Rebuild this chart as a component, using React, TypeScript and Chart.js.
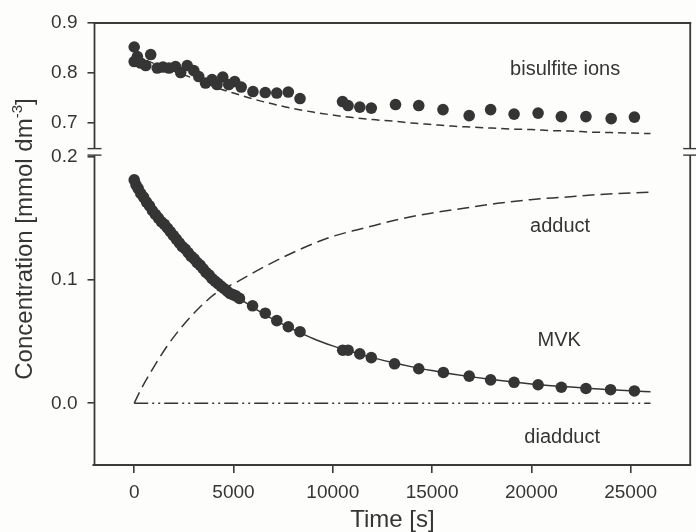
import React, { useEffect, useRef } from 'react';
import { Chart, registerables } from 'chart.js';

Chart.register(...registerables);

const FONT = "'Liberation Sans', Arial, Helvetica, sans-serif";
const INK = '#353535';

// Axis ticks
const X_TICKS = [0, 5000, 10000, 15000, 20000, 25000];
const Y_UPPER_TICKS = [0.7, 0.8, 0.9];
const Y_LOWER_TICKS = [0.0, 0.1, 0.2];

// Bisulfite ions (measured)
const bisulfiteT = [0, 0, 160, 330, 580, 830, 1160, 1450, 1750, 2080, 2340, 2670, 3000, 3250, 3590, 3920, 4170, 4460, 4760, 5060, 5390, 5980, 6600, 7180, 7760, 8350, 10490, 10770, 11360, 11940, 13160, 14330, 15550, 16870, 17950, 19130, 20340, 21510, 22750, 24020, 25190];
const bisulfiteC = [0.852, 0.823, 0.833, 0.820, 0.815, 0.837, 0.810, 0.812, 0.810, 0.813, 0.801, 0.815, 0.805, 0.793, 0.780, 0.787, 0.777, 0.792, 0.777, 0.783, 0.772, 0.763, 0.761, 0.760, 0.762, 0.749, 0.743, 0.735, 0.732, 0.730, 0.737, 0.735, 0.727, 0.715, 0.727, 0.718, 0.720, 0.713, 0.713, 0.709, 0.712];

// Bisulfite ions (model)
const bisulfiteFitT = [0, 1000, 2000, 3000, 4000, 5000, 6000, 7000, 8000, 9000, 10000, 11000, 12000, 13000, 14000, 15000, 16000, 17000, 18000, 19000, 20000, 21000, 22000, 23000, 24000, 25000, 26000];
const bisulfiteFitC = [0.835, 0.819, 0.804, 0.789, 0.773, 0.760, 0.748, 0.738, 0.729, 0.722, 0.716, 0.711, 0.707, 0.704, 0.700, 0.697, 0.694, 0.692, 0.690, 0.688, 0.687, 0.685, 0.684, 0.682, 0.681, 0.680, 0.679];

// MVK (measured)
const mvkT = [0, 90, 200, 330, 470, 620, 770, 920, 1070, 1220, 1370, 1520, 1670, 1820, 1970, 2120, 2270, 2420, 2570, 2720, 2870, 3020, 3170, 3320, 3470, 3620, 3770, 3920, 4070, 4220, 4370, 4520, 4670, 4820, 4970, 5120, 5300, 5960, 6600, 7180, 7760, 8350, 10500, 10770, 11360, 11940, 13110, 14330, 15570, 16870, 17950, 19130, 20340, 21510, 22750, 23990, 25190];
const mvkC = [0.181, 0.177, 0.174, 0.170, 0.167, 0.163, 0.160, 0.156, 0.153, 0.150, 0.147, 0.145, 0.142, 0.139, 0.136, 0.133, 0.130, 0.127, 0.125, 0.122, 0.119, 0.117, 0.114, 0.112, 0.109, 0.106, 0.104, 0.101, 0.099, 0.097, 0.095, 0.093, 0.091, 0.089, 0.088, 0.087, 0.085, 0.079, 0.073, 0.067, 0.062, 0.058, 0.043, 0.043, 0.040, 0.037, 0.032, 0.028, 0.025, 0.022, 0.019, 0.017, 0.015, 0.013, 0.012, 0.011, 0.010];

// MVK (model)
const mvkFitT = [0, 1000, 2000, 3000, 4000, 5000, 6000, 7000, 8000, 9000, 10000, 11000, 12000, 13000, 14000, 15000, 16000, 17000, 18000, 19000, 20000, 21000, 22000, 23000, 24000, 25000, 26000];
const mvkFitC = [0.179, 0.1545, 0.1345, 0.117, 0.1015, 0.0885, 0.0775, 0.068, 0.060, 0.0525, 0.0465, 0.0415, 0.037, 0.033, 0.0295, 0.0265, 0.0238, 0.0214, 0.0193, 0.0174, 0.0157, 0.0143, 0.0131, 0.012, 0.011, 0.0101, 0.0094];

// Adduct (model)
const adductT = [0, 330, 900, 1600, 2400, 3250, 4100, 5250, 6600, 8250, 9950, 11600, 13300, 14950, 16600, 18300, 19950, 21650, 23300, 26000];
const adductC = [0, 0.011, 0.027, 0.045, 0.062, 0.077, 0.089, 0.099, 0.111, 0.124, 0.135, 0.142, 0.149, 0.154, 0.158, 0.162, 0.165, 0.167, 0.169, 0.171];

// Diadduct (model)
const diadductT = [0, 26000];
const diadductC = [0, 0];

// Curve labels
const LABELS = ['bisulfite ions', 'adduct', 'MVK', 'diadduct'];
const LABEL_X = [21700, 21450, 21400, 21550];
const LABEL_Y = [0.807, 0.143, 0.051, -0.028];
const LABEL_AXIS = ['yTop', 'yBottom', 'yBottom', 'yBottom'];

const pts = (t: number[], c: number[]) => t.map((v, i) => ({ x: v, y: c[i] }));

const framePlugin = {
  id: 'frame',
  afterDraw(chart: any) {
    const { ctx, chartArea } = chart;
    const { left, right, top, bottom } = chartArea;
    const j = chart.scales.yTop.bottom;
    const b1 = j - 3.5;
    const b2 = j + 3;
    ctx.save();
    ctx.strokeStyle = '#3a3a3a';
    ctx.lineWidth = 1.8;
    const ln = (x1: number, y1: number, x2: number, y2: number) => {
      ctx.beginPath();
      ctx.moveTo(x1, y1);
      ctx.lineTo(x2, y2);
      ctx.stroke();
    };
    ln(left - 1, top, right + 1, top);
    ln(left - 2, bottom, right + 1, bottom);
    ln(left, top, left, b1);
    ln(left, b2, left, bottom);
    ln(right, top, right, b1);
    ln(right, b2, right, bottom);
    ctx.lineWidth = 1.4;
    ln(left - 7, b1, left + 7, b1);
    ln(left - 7, b2, left + 7, b2);
    ln(right - 7, b1, right + 7, b1);
    ln(right - 7, b2, right + 7, b2);

    // curve labels
    ctx.fillStyle = INK;
    ctx.font = `20px ${FONT}`;
    ctx.textAlign = 'center';
    ctx.textBaseline = 'middle';
    LABELS.forEach((s, i) => {
      const x = chart.scales.x.getPixelForValue(LABEL_X[i]);
      const y = chart.scales[LABEL_AXIS[i]].getPixelForValue(LABEL_Y[i]);
      ctx.fillText(s, x, y);
    });

    // x title
    ctx.font = `24px ${FONT}`;
    ctx.fillText('Time [s]', (left + right) / 2, 520);

    // y title with superscript
    const main = 'Concentration [mmol dm';
    const sup = '-3';
    const tail = ']';
    ctx.font = `24px ${FONT}`;
    const wMain = ctx.measureText(main).width;
    const wTail = ctx.measureText(tail).width;
    ctx.font = `15px ${FONT}`;
    const wSup = ctx.measureText(sup).width;
    const total = wMain + wSup + wTail;
    ctx.translate(23, 239);
    ctx.rotate(-Math.PI / 2);
    ctx.textAlign = 'left';
    ctx.textBaseline = 'alphabetic';
    let x0 = -total / 2;
    ctx.font = `24px ${FONT}`;
    ctx.fillText(main, x0, 9);
    x0 += wMain;
    ctx.font = `15px ${FONT}`;
    ctx.fillText(sup, x0, -1);
    x0 += wSup;
    ctx.font = `24px ${FONT}`;
    ctx.fillText(tail, x0, 9);
    ctx.restore();
  },
};

export default function App() {
  const ref = useRef<HTMLCanvasElement>(null);
  useEffect(() => {
    document.body.style.margin = '0';
    const tickFont = { family: FONT, size: 19 };
    const grid = { drawOnChartArea: false, drawTicks: true, tickLength: 7, color: '#3a3a3a', lineWidth: 1.6 };
    const chart = new Chart(ref.current as HTMLCanvasElement, {
      type: 'line',
      data: {
        datasets: [
          { label: 'bisulfite', data: pts(bisulfiteT, bisulfiteC), yAxisID: 'yTop', showLine: false, pointRadius: 5.8, pointBackgroundColor: INK, pointBorderWidth: 0, order: 0 },
          { label: 'MVK', data: pts(mvkT, mvkC), yAxisID: 'yBottom', showLine: false, pointRadius: 5.8, pointBackgroundColor: INK, pointBorderWidth: 0, order: 0 },
          { label: 'bisulfite fit', data: pts(bisulfiteFitT, bisulfiteFitC), yAxisID: 'yTop', borderColor: INK, borderWidth: 1.5, borderDash: [8, 5], pointRadius: 0, cubicInterpolationMode: 'monotone', fill: false, order: 1 },
          { label: 'MVK fit', data: pts(mvkFitT, mvkFitC), yAxisID: 'yBottom', borderColor: INK, borderWidth: 1.5, pointRadius: 0, cubicInterpolationMode: 'monotone', fill: false, order: 1 },
          { label: 'adduct', data: pts(adductT, adductC), yAxisID: 'yBottom', borderColor: INK, borderWidth: 1.5, borderDash: [12, 6], pointRadius: 0, cubicInterpolationMode: 'monotone', fill: false, order: 1 },
          { label: 'diadduct', data: pts(diadductT, diadductC), yAxisID: 'yBottom', borderColor: INK, borderWidth: 1.5, borderDash: [14, 4, 2, 4, 2, 4], pointRadius: 0, fill: false, order: 1 },
        ] as any,
      },
      options: {
        animation: false,
        responsive: true,
        maintainAspectRatio: false,
        layout: { padding: { top: 23, right: 3, left: 0, bottom: 0 } },
        plugins: { legend: { display: false }, tooltip: { enabled: false } },
        scales: {
          x: {
            type: 'linear',
            min: -2000,
            max: 28000,
            afterBuildTicks: (ax: any) => { ax.ticks = X_TICKS.map((v) => ({ value: v })); },
            ticks: { font: tickFont, color: INK, padding: 8, maxRotation: 0, autoSkip: false, callback: (v: any) => String(v) },
            grid: { ...grid, tickLength: 8 },
            border: { display: false },
            afterFit: (ax: any) => { ax.height = 67; },
          },
          yBottom: {
            type: 'linear',
            position: 'left',
            stack: 'conc',
            stackWeight: 312.6,
            min: -0.05,
            max: 0.2035,
            afterBuildTicks: (ax: any) => { ax.ticks = Y_LOWER_TICKS.map((v) => ({ value: v })); },
            ticks: { font: tickFont, color: INK, padding: 10, callback: (v: any) => Number(v).toFixed(1) },
            grid,
            border: { display: false },
            afterFit: (ax: any) => { ax.width = 94.5; },
          },
          yTop: {
            type: 'linear',
            position: 'left',
            stack: 'conc',
            stackWeight: 129,
            min: 0.642,
            max: 0.9,
            afterBuildTicks: (ax: any) => { ax.ticks = Y_UPPER_TICKS.map((v) => ({ value: v })); },
            ticks: { font: tickFont, color: INK, padding: 10, callback: (v: any) => Number(v).toFixed(1) },
            grid,
            border: { display: false },
            afterFit: (ax: any) => { ax.width = 94.5; },
          },
        } as any,
      },
      plugins: [framePlugin],
    });
    return () => chart.destroy();
  }, []);
  return (
    <div style={{ width: 696, height: 532, position: 'relative', background: '#fdfdfb' }}>
      <canvas ref={ref} />
    </div>
  );
}
